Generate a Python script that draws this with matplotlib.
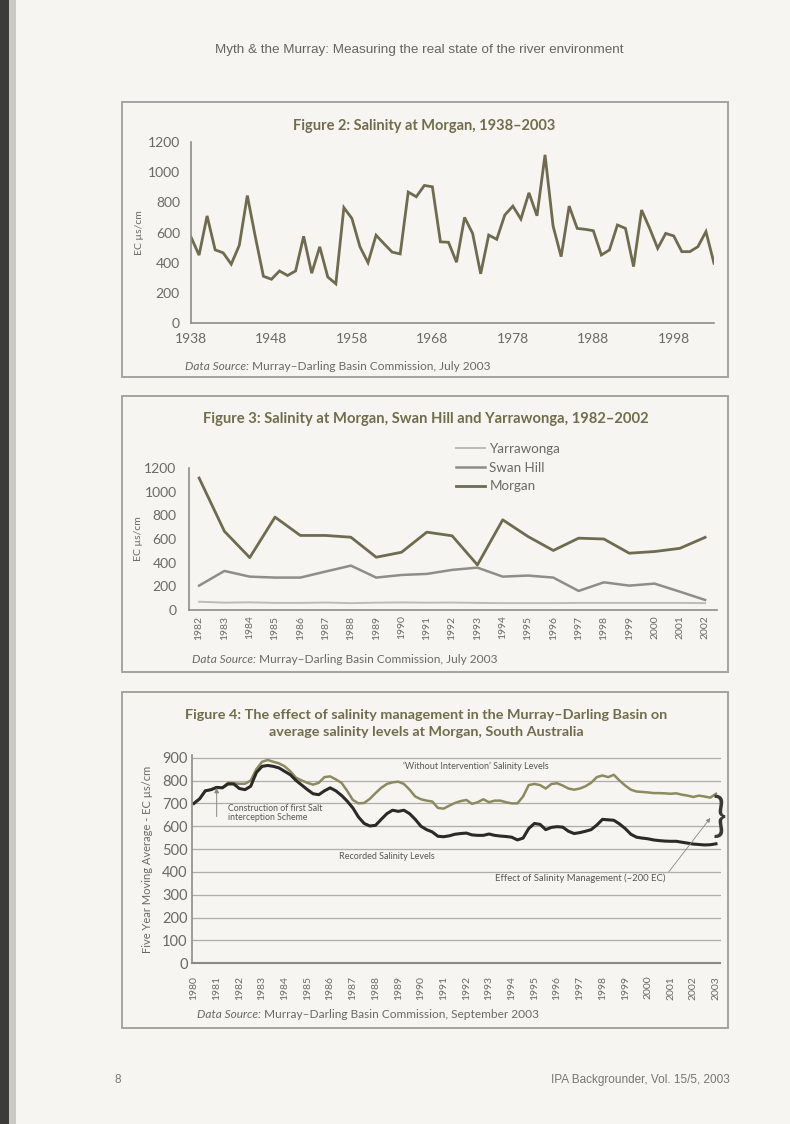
import matplotlib
matplotlib.use('Agg')
import matplotlib.pyplot as plt
import numpy as np
from matplotlib.patches import Rectangle

plt.rcParams['font.family'] = ['Lato', 'DejaVu Sans']

W, H = 790, 1124

# Figure 2: salinity at Morgan, annual
years_fig2 = list(range(1938, 2004))
morgan_fig2 = [570, 450, 710, 485, 465, 390, 515, 845, 570, 310,
               290, 345, 315, 345, 575, 330, 505, 305, 260, 765,
               693, 505, 400, 582, 525, 470, 458, 868, 837, 912,
               903, 538, 535, 403, 700, 594, 326, 583, 555, 716,
               775, 689, 863, 711, 1115, 643, 440, 775, 627, 621,
               612, 451, 484, 650, 627, 374, 749, 628, 495, 594,
               577, 473, 473, 506, 606, 396]

# Figure 3: three stations 1982-2002
years_fig3 = list(range(1982, 2003))
yarrawonga = [70, 62, 65, 60, 60, 63, 58, 62, 64, 62, 63,
              60, 58, 58, 58, 60, 60, 60, 60, 60, 58]
swan_hill = [206, 330, 282, 274, 274, 325, 375, 274, 296, 305, 339,
             358, 282, 291, 274, 161, 234, 206, 223, 155, 85]
morgan_fig3 = [1115, 665, 443, 785, 630, 630, 615, 446, 488, 658, 627,
               381, 762, 621, 503, 607, 600, 480, 494, 521, 614]
fig3_labels = ['Yarrawonga', 'Swan Hill', 'Morgan']

# Figure 4: five year moving averages, quarterly readings 1980-2003
quarters_fig4 = np.arange(1980, 2003.01, 0.25)
without_intervention = [700, 720, 755, 760, 770, 768, 790, 788,
                        786, 786, 800, 850, 882, 890, 882, 875,
                        862, 840, 812, 800, 790, 782, 790, 815,
                        818, 805, 790, 755, 715, 700, 702, 720,
                        745, 768, 785, 792, 795, 785, 760, 730,
                        718, 712, 708, 680, 677, 690, 702, 710,
                        715, 698, 705, 718, 705, 712, 712, 705,
                        700, 700, 730, 780, 785, 780, 765, 785,
                        788, 778, 765, 760, 765, 775, 790, 815,
                        822, 815, 825, 800, 778, 760, 752, 750,
                        748, 745, 745, 744, 742, 744, 738, 734,
                        728, 734, 730, 725, 742]
recorded = [700, 720, 755, 760, 770, 768, 785, 785,
            765, 760, 775, 835, 862, 866, 862, 855,
            840, 825, 800, 780, 760, 742, 738, 755,
            768, 755, 735, 710, 680, 640, 612, 601,
            604, 630, 655, 670, 665, 670, 655, 630,
            600, 585, 575, 556, 554, 558, 565, 568,
            570, 562, 560, 560, 566, 560, 557, 555,
            552, 540, 548, 590, 612, 608, 585, 595,
            598, 596, 578, 568, 572, 578, 585, 605,
            630, 628, 626, 610, 590, 565, 552, 548,
            545, 540, 537, 535, 534, 534, 530, 526,
            522, 520, 518, 519, 523]

olive = '#6e6b50'
title_col = '#716c4c'
text_col = '#6a6963'
axis_col = '#8f8e86'
box_col = '#a4a39c'

fig = plt.figure(figsize=(W / 100, H / 100), dpi=100, facecolor='#f6f5f1')


def px_axes(left, top, right, bottom):
    return fig.add_axes([left / W, 1 - bottom / H, (right - left) / W, (bottom - top) / H])


def box(left, top, right, bottom):
    fig.add_artist(Rectangle((left / W, 1 - bottom / H), (right - left) / W, (bottom - top) / H,
                             transform=fig.transFigure, fill=False, ec=box_col, lw=1.4))


def source(ax, x, y, rest):
    t = fig.text(x / W, 1 - y / H, 'Data Source:', style='italic', fontsize=8.6,
                 color=text_col, va='bottom')
    ax.annotate(' ' + rest, xy=(1, 0), xycoords=t, va='bottom', ha='left', fontsize=8.6,
                color=text_col, annotation_clip=False)


def style(ax):
    ax.set_facecolor('none')
    for s in ['top', 'right']:
        ax.spines[s].set_visible(False)
    for s in ['left', 'bottom']:
        ax.spines[s].set_color(axis_col)
        ax.spines[s].set_linewidth(1.2)
    ax.tick_params(length=0, colors=text_col)


# page edge shading
fig.add_artist(Rectangle((0, 0), 9 / W, 1, transform=fig.transFigure, color='#3c3b39', lw=0))
fig.add_artist(Rectangle((9 / W, 0), 7 / W, 1, transform=fig.transFigure, color='#c9c8c3', lw=0))

fig.text(419 / W, 1 - 50 / H, 'Myth & the Murray: Measuring the real state of the river environment',
         ha='center', va='center', fontsize=9.7, color='#66655f', family=['Liberation Sans', 'DejaVu Sans'])
fig.text(118 / W, 1 - 1080 / H, '8', ha='center', va='center', fontsize=8.5, color='#77766f',
         family=['Liberation Sans', 'DejaVu Sans'])
fig.text(730 / W, 1 - 1080 / H, 'IPA Backgrounder, Vol. 15/5, 2003', ha='right', va='center',
         fontsize=8.5, color='#77766f', family=['Liberation Sans', 'DejaVu Sans'])

# ---- Figure 2
box(122, 102, 728, 377)
ax2 = px_axes(191, 142, 714, 323)
style(ax2)
ax2.plot(years_fig2, morgan_fig2, color=olive, lw=2.0, solid_joinstyle='miter')
ax2.set_xlim(1938, 2003)
ax2.set_ylim(0, 1200)
ax2.set_xticks(range(1938, 2004, 10))
ax2.set_yticks(range(0, 1201, 200))
ax2.tick_params(axis='x', labelsize=10, pad=7)
ax2.tick_params(axis='y', labelsize=10, pad=8)
ax2.set_ylabel('EC µs/cm', fontsize=7.5, color=text_col)
ax2.yaxis.set_label_coords(-0.09, 0.5)
fig.text(424 / W, 1 - 126 / H, 'Figure 2: Salinity at Morgan, 1938–2003', ha='center', va='center',
         fontsize=10.5, fontweight='bold', color=title_col)
source(ax2, 185, 372, 'Murray–Darling Basin Commission, July 2003')

# ---- Figure 3
box(122, 396, 728, 672)
ax3 = px_axes(189, 468, 717, 610)
style(ax3)
ax3.plot(years_fig3, yarrawonga, color='#bcbbb5', lw=1.4, label=fig3_labels[0])
ax3.plot(years_fig3, swan_hill, color='#8f8d89', lw=1.8, label=fig3_labels[1])
ax3.plot(years_fig3, morgan_fig3, color=olive, lw=2.0, label=fig3_labels[2])
ax3.set_xlim(1981.6, 2002.47)
ax3.set_ylim(0, 1200)
ax3.set_xticks(years_fig3)
ax3.set_xticklabels([str(y) for y in years_fig3], rotation=90)
ax3.set_yticks(range(0, 1201, 200))
ax3.tick_params(axis='x', labelsize=7.5, pad=4)
ax3.tick_params(axis='y', labelsize=10, pad=9)
ax3.set_ylabel('EC µs/cm', fontsize=7.5, color=text_col)
ax3.yaxis.set_label_coords(-0.087, 0.5)
leg = ax3.legend(loc='upper left', bbox_to_anchor=(456 / W, 1 - 443 / H),
                 bbox_transform=fig.transFigure, frameon=False, fontsize=9.6,
                 handlelength=2.2, handletextpad=0.3, labelspacing=0.5,
                 borderpad=0, borderaxespad=0)
for t in leg.get_texts():
    t.set_color(text_col)
fig.text(426 / W, 1 - 419 / H, 'Figure 3: Salinity at Morgan, Swan Hill and Yarrawonga, 1982–2002',
         ha='center', va='center', fontsize=10.6, fontweight='bold', color=title_col)
source(ax3, 192, 665, 'Murray–Darling Basin Commission, July 2003')

# ---- Figure 4
box(122, 692, 728, 1028)
ax4 = px_axes(191.7, 755.4, 720.5, 963.3)
style(ax4)
ax4.spines['bottom'].set_color('#8a8983')
ax4.spines['bottom'].set_linewidth(1.5)
ax4.set_xlim(1979.9, 2003.2)
ax4.set_ylim(0, 910)
ax4.set_yticks(range(0, 901, 100))
ax4.grid(axis='y', color='#aeada7', lw=0.9)
ax4.set_axisbelow(True)
ax4.plot(quarters_fig4, without_intervention, color='#8c8a60', lw=1.8)
ax4.plot(quarters_fig4, recorded, color='#2b2a26', lw=2.2)
ax4.set_xticks(range(1980, 2004))
ax4.set_xticklabels([str(y) for y in range(1980, 2004)], rotation=90)
ax4.tick_params(axis='x', labelsize=7.5, pad=9)
ax4.tick_params(axis='y', labelsize=10.5, pad=3)
ax4.set_ylabel('Five Year Moving Average - EC µs/cm', fontsize=8, color=text_col)
ax4.yaxis.set_label_coords(-0.073, 0.5)

note_col = '#57564f'
ax4.text(1992.4, 864, '‘Without Intervention’ Salinity Levels', fontsize=6.5, color=note_col,
         ha='center', va='center')
ax4.text(1981.5, 660, 'Construction of first Salt\ninterception Scheme', fontsize=6.3,
         color=note_col, ha='left', va='center', linespacing=1.0)
ax4.annotate('', xy=(1981, 768), xytext=(1981, 642),
             arrowprops=dict(arrowstyle='-|>', color='#8a897f', lw=0.7, mutation_scale=7,
                             shrinkA=0, shrinkB=0))
ax4.text(1988.5, 466, 'Recorded Salinity Levels', fontsize=6.5, color=note_col,
         ha='center', va='center')
ax4.annotate('Effect of Salinity Management (~200 EC)', xy=(2002.75, 636), xytext=(1993.26, 372),
             fontsize=6.8, color=note_col, ha='left', va='center',
             arrowprops=dict(arrowstyle='-|>', color='#8a897f', lw=0.6, mutation_scale=6,
                             shrinkA=1, shrinkB=0, relpos=(1, 0.7)))
ax4.text(2003.15, (without_intervention[-1] + recorded[-1]) / 2 + 8, '}', fontsize=33,
         color='#3a3935', ha='center', va='center', clip_on=False)
fig.text(426 / W, 1 - 715 / H,
         'Figure 4: The effect of salinity management in the Murray–Darling Basin on',
         ha='center', va='center', fontsize=10.4, fontweight='bold', color=title_col)
fig.text(426 / W, 1 - 732 / H, 'average salinity levels at Morgan, South Australia',
         ha='center', va='center', fontsize=10.4, fontweight='bold', color=title_col)
source(ax4, 197, 1020, 'Murray–Darling Basin Commission, September 2003')

fig.savefig('out.png', dpi=100, facecolor=fig.get_facecolor())
